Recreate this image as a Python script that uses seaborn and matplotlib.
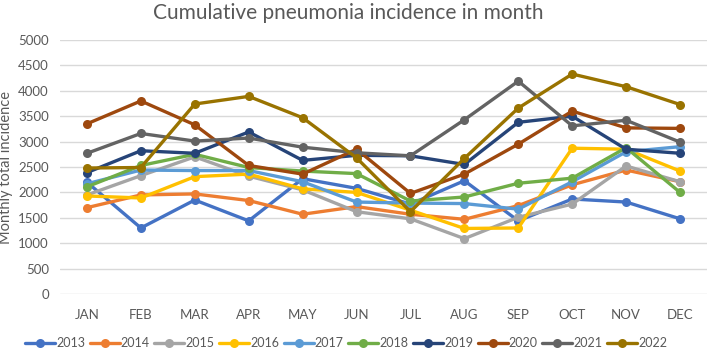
import numpy as np
import pandas as pd
import matplotlib.pyplot as plt
import seaborn as sns

MONTHS = ["JAN", "FEB", "MAR", "APR", "MAY", "JUN", "JUL", "AUG", "SEP", "OCT", "NOV", "DEC"]
YEARS = ["2013", "2014", "2015", "2016", "2017", "2018", "2019", "2020", "2021", "2022"]

Y2013 = [2200, 1300, 1850, 1440, 2270, 2080, 1770, 2230, 1440, 1870, 1810, 1480]
Y2014 = [1700, 1950, 1970, 1840, 1570, 1720, 1570, 1470, 1740, 2150, 2440, 2210]
Y2015 = [1950, 2330, 2700, 2320, 2050, 1620, 1480, 1090, 1510, 1770, 2520, 2210]
Y2016 = [1930, 1890, 2310, 2360, 2070, 2000, 1650, 1290, 1300, 2870, 2850, 2420]
Y2017 = [2170, 2440, 2430, 2430, 2210, 1810, 1790, 1780, 1670, 2210, 2800, 2900]
Y2018 = [2110, 2530, 2750, 2490, 2420, 2370, 1830, 1910, 2180, 2280, 2880, 2000]
Y2019 = [2390, 2820, 2770, 3190, 2630, 2730, 2720, 2550, 3380, 3500, 2850, 2770]
Y2020 = [3350, 3800, 3330, 2530, 2360, 2850, 1980, 2360, 2950, 3600, 3270, 3260]
Y2021 = [2770, 3160, 3010, 3070, 2890, 2780, 2720, 3430, 4190, 3310, 3420, 2990]
Y2022 = [2480, 2490, 3740, 3890, 3470, 2680, 1620, 2670, 3660, 4330, 4080, 3730]

COLORS = ["#4472C4", "#ED7D31", "#A5A5A5", "#FFC000", "#5B9BD5",
          "#70AD47", "#264478", "#9E480E", "#636363", "#997300"]

series = [Y2013, Y2014, Y2015, Y2016, Y2017, Y2018, Y2019, Y2020, Y2021, Y2022]
rows = []
for yr, vals in zip(YEARS, series):
    for m, v in zip(MONTHS, vals):
        rows.append({"year": yr, "month": m, "incidence": v})
df = pd.DataFrame(rows)
df["month"] = pd.Categorical(df["month"], categories=MONTHS, ordered=True)
df["mi"] = df["month"].cat.codes

sns.set_style("white")
plt.rcParams["font.family"] = ["Lato", "DejaVu Sans"]

fig = plt.figure(figsize=(7.08, 3.48), dpi=100)
ax = fig.add_axes([60 / 708, 1 - 294 / 348, 647 / 708, 254 / 348])

sns.lineplot(data=df, x="mi", y="incidence", hue="year", hue_order=YEARS,
             palette=COLORS, marker="o", markersize=6.5, markeredgewidth=0,
             linewidth=2.4, sort=False, ax=ax, legend=True)

ax.set_xlim(-0.5, 11.5)
ax.set_ylim(0, 5000)
ax.set_yticks(np.arange(0, 5001, 500))
ax.set_xticks(range(len(MONTHS)))
ax.set_xticklabels(MONTHS)
ax.grid(axis="y", color="#D9D9D9", linewidth=1)
ax.set_axisbelow(True)
for s in ax.spines.values():
    s.set_visible(False)
ax.tick_params(axis="both", length=0, labelsize=9.5, colors="#595959")
ax.tick_params(axis="x", pad=11)
ax.tick_params(axis="y", pad=8)
ax.set_xlabel("")
ax.set_ylabel("Monthly total incidence", fontsize=10.5, color="#595959", labelpad=4)
fig.text(348 / 708, 1 - 13 / 348, "Cumulative pneumonia incidence in month",
         fontsize=15, color="#595959", ha="center", va="center")

handles, labels = ax.get_legend_handles_labels()
ax.get_legend().remove()
fig.legend(handles, labels, loc="center", bbox_to_anchor=(346 / 708, 1 - 343 / 348),
           ncol=10, frameon=False, fontsize=9, handlelength=2.4, handletextpad=0.1,
           columnspacing=0.35, labelcolor="#595959", borderpad=0)

fig.savefig("out.png", dpi=100)
